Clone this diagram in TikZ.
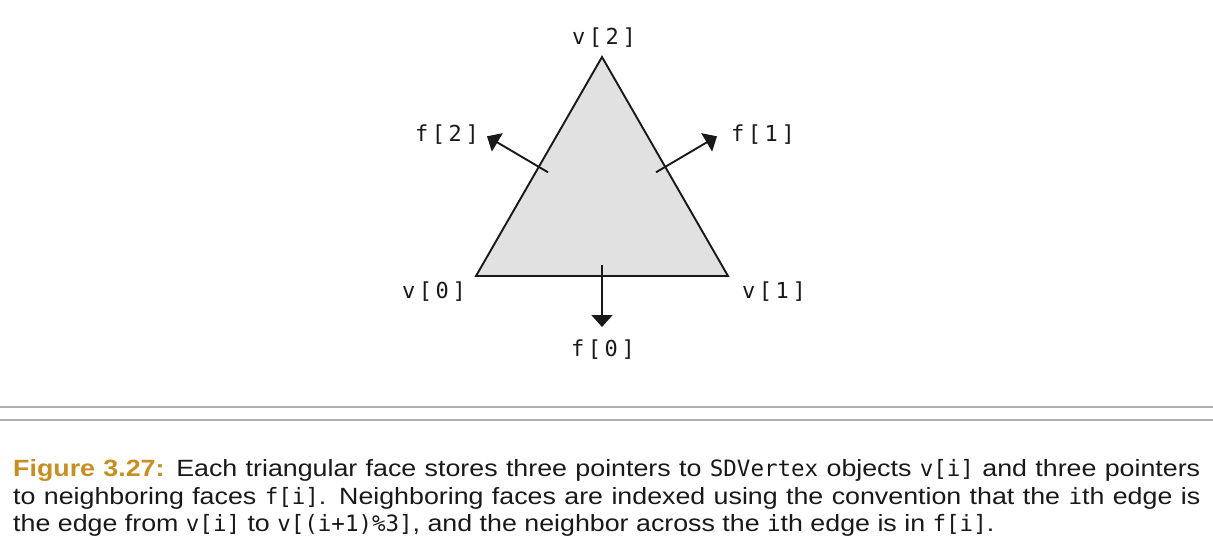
\documentclass[tikz,border=0pt]{standalone}
\usepackage{fontspec}
\setmainfont{Liberation Sans}
\newfontfamily\capfont[FakeStretch=1.14]{Liberation Sans}
\newfontfamily\lblfont[LetterSpace=16]{DejaVu Sans Mono}
\newfontfamily\codefont[Scale=0.957]{DejaVu Sans Mono}
\usetikzlibrary{arrows.meta}
\definecolor{figgold}{RGB}{200,142,32}
\definecolor{facegray}{RGB}{225,225,225}
\definecolor{rulegray}{RGB}{176,176,176}
\definecolor{inkblack}{RGB}{25,25,25}
\newcommand{\cd}[1]{{\codefont #1}}
\tikzset{
  face/.style={draw=inkblack, fill=facegray, line width=1.9pt, line join=miter},
  ptr/.style={draw=inkblack, line width=1.9pt, -{Triangle[length=12pt,width=21pt]}},
  lbl/.style={inner sep=0pt, text=inkblack, font=\lblfont\fontsize{22}{25}\selectfont},
  capline/.style={inner sep=0pt, anchor=base west, text=inkblack, font=\capfont\fontsize{23.5}{27}\selectfont},
  rule/.style={draw=rulegray, line width=1.7pt}
}
\begin{document}
\begin{tikzpicture}[x=1pt,y=-1pt]
\useasboundingbox[fill=white] (0,0) rectangle (1213,555);
% vertices
\coordinate (v0) at (476,276);
\coordinate (v1) at (728,276);
\coordinate (v2) at (602,57);
\path[face] (v0) -- (v1) -- (v2) -- cycle;
% pointer anchors
\coordinate (s0) at (602,265);
\coordinate (t0) at (602,327);
\coordinate (s1) at (656,172.3);
\coordinate (t1) at (717,136.3);
\coordinate (s2) at (548,172.3);
\coordinate (t2) at (487,136.3);
\draw[ptr] (s0) -- (t0);
\draw[ptr] (s1) -- (t1);
\draw[ptr] (s2) -- (t2);
% labels
\node[lbl] (lv2) at (604,38) {v[2]};
\node[lbl] (lv0) at (434,292) {v[0]};
\node[lbl] (lv1) at (774,292) {v[1]};
\node[lbl] (lf0) at (603,350) {f[0]};
\node[lbl] (lf1) at (763,134.5) {f[1]};
\node[lbl] (lf2) at (447,135) {f[2]};
% rules
\coordinate (r1a) at (0,407); \coordinate (r1b) at (1213,407);
\coordinate (r2a) at (0,419.7); \coordinate (r2b) at (1213,419.7);
\draw[rule] (r1a) -- (r1b);
\draw[rule] (r2a) -- (r2b);
% caption
\node[capline] (c1) at (13,476.5) {\makebox[1187pt][s]{{\bfseries\color{figgold}Figure 3.27:} Each triangular face stores three pointers to \cd{SDVertex} objects \cd{v[i]} and three pointers}};
\node[capline] (c2) at (13,504) {\makebox[1187pt][s]{to neighboring faces \cd{f[i]}. Neighboring faces are indexed using the convention that the \cd{i}th edge is}};
\node[capline] (c3) at (13,531) {the edge from \cd{v[i]} to \cd{v[(i+1)\%3]}, and the neighbor across the \cd{i}th edge is in \cd{f[i]}.};
\end{tikzpicture}
\end{document}
